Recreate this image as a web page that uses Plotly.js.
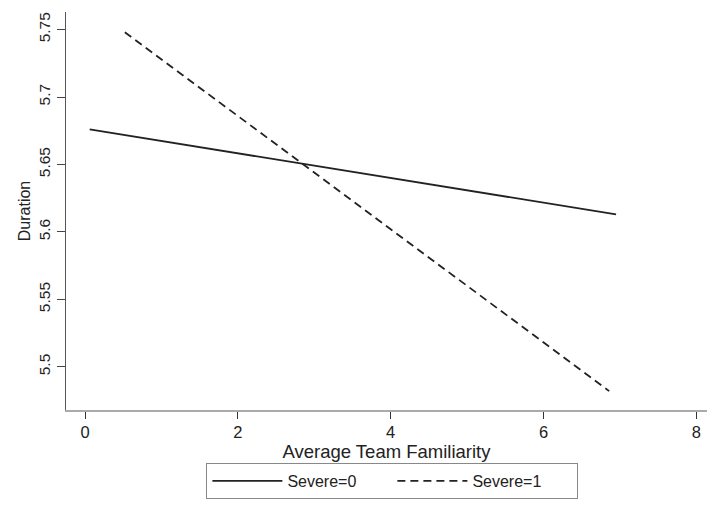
<!DOCTYPE html>
<html>
<head>
<meta charset="utf-8">
<script src="https://cdn.plot.ly/plotly-3.0.1.min.js"></script>
<style>html,body{margin:0;padding:0;background:#fff;}#chart{width:707px;height:507px;}</style>
</head>
<body>
<div id="chart"></div>
<script>
// Data
const severe0X = [0.06, 6.95];
const severe0Y = [5.676, 5.613];
const severe1X = [0.52, 6.86];
const severe1Y = [5.748, 5.482];
const seriesNames = ["Severe=0", "Severe=1"];
const yTickVals = [5.5, 5.55, 5.6, 5.65, 5.7, 5.75];
const yTickText = ["5.5", "5.55", "5.6", "5.65", "5.7", "5.75"];
const xTickVals = [0, 2, 4, 6, 8];

const fontFam = "Liberation Sans, Arial, sans-serif";
const traces = [
  {x: severe0X, y: severe0Y, mode: "lines", name: seriesNames[0],
   line: {color: "#222", width: 1.8, dash: "solid"}},
  {x: severe1X, y: severe1Y, mode: "lines", name: seriesNames[1],
   line: {color: "#222", width: 1.8, dash: "8px,5px"}}
];
const layout = {
  width: 707, height: 507,
  margin: {l: 66, r: 0, t: 12, b: 97},
  paper_bgcolor: "#fff", plot_bgcolor: "#fff",
  font: {family: fontFam, color: "#222", size: 15},
  showlegend: true,
  legend: {orientation: "h", x: 0.219, xanchor: "left", y: -0.133, yanchor: "top",
    bordercolor: "#888", borderwidth: 1, itemwidth: 70,
    entrywidth: 100, entrywidthmode: "pixels",
    font: {family: fontFam, size: 16, color: "#222"}, traceorder: "normal"},
  xaxis: {range: [-0.25, 8.14], tickvals: xTickVals, ticks: "outside", ticklen: 7,
    tickcolor: "#333", showline: true, linecolor: "#aaa", linewidth: 1.5,
    showgrid: false, zeroline: false, tickfont: {size: 16.5},
    title: {text: "Average Team Familiarity", font: {size: 18.5}, standoff: 0}},
  yaxis: {range: [5.468, 5.763], tickvals: yTickVals, ticktext: yTickText,
    ticks: "outside", ticklen: 8, tickcolor: "#444", tickangle: -90,
    showline: true, linecolor: "#555", linewidth: 1.5, showgrid: false, zeroline: false,
    tickfont: {size: 15.5},
    title: {text: "Duration", font: {size: 16}, standoff: 1}}
};
Plotly.newPlot("chart", traces, layout, {displayModeBar: false, staticPlot: true});
</script>
</body>
</html>
